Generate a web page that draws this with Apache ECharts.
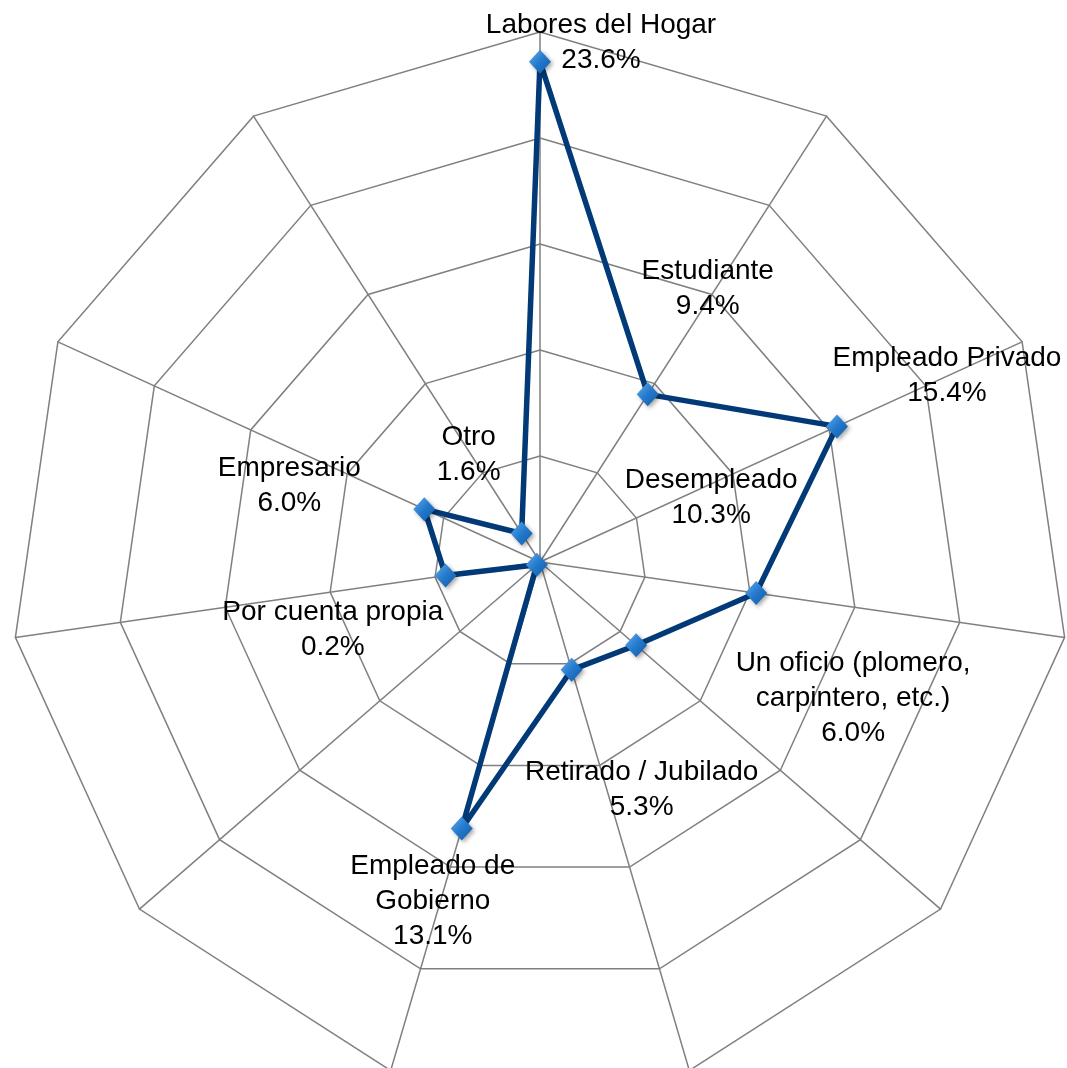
<!DOCTYPE html>
<html><head><meta charset="utf-8">
<script src="https://cdn.jsdelivr.net/npm/echarts@6/dist/echarts.min.js"></script>
<style>html,body{margin:0;padding:0;background:#fff}#c{width:1067px;height:1068px}</style>
</head><body><div id="c"></div>
<script>
// Categories in clockwise order starting from the top
const categories = ['Labores del Hogar', 'Estudiante', 'Empleado Privado', 'Desempleado',
  'Un oficio (plomero,\ncarpintero, etc.)', 'Retirado / Jubilado', 'Empleado de\nGobierno',
  'Por cuenta propia', '', 'Empresario', 'Otro'];
const values = [23.6, 9.4, 15.4, 10.3, 6.0, 5.3, 13.1, 0.2, 4.5, 6.0, 1.6];
const axisMax = 25;
const axisSplits = 5;

// label layout (offset of each text block from its point), kept apart from the data
const labelOffsets = [[61, -19], [60, -106], [110, -51], [-45, -95], [217, 53], [70, 120],
  [-29, 73], [-204, 65], [0, 0], [-135, -23], [-53, -79]];

const chart = echarts.init(document.getElementById('c'), null, {renderer: 'canvas'});
const center = [540, 562];
const radius = 530;

// ECharts radar runs counter-clockwise: reorder so the picture reads clockwise
const order = [0].concat(categories.map((_, i) => i).slice(1).reverse());

const option = {
  backgroundColor: '#ffffff',
  animation: false,
  radar: {
    center: center,
    radius: radius,
    startAngle: 90,
    shape: 'polygon',
    splitNumber: axisSplits,
    indicator: order.map(i => ({name: categories[i] || ' ', min: 0, max: axisMax})),
    axisName: {show: false},
    axisLine: {lineStyle: {color: '#808080', width: 1.5}},
    splitLine: {lineStyle: {color: '#808080', width: 1.5}},
    splitArea: {show: false},
    axisTick: {show: false},
    axisLabel: {show: false}
  },
  polar: {center: center, radius: radius},
  angleAxis: {type: 'value', min: 0, max: categories.length, startAngle: 90, clockwise: true, show: false},
  radiusAxis: {type: 'value', min: 0, max: axisMax, show: false},
  series: [
    {
      type: 'radar',
      symbol: 'diamond',
      symbolSize: [22, 24],
      lineStyle: {color: '#023a77', width: 5.5},
      itemStyle: {
        color: new echarts.graphic.LinearGradient(0, 0, 1, 1, [
          {offset: 0, color: '#62aced'}, {offset: 0.5, color: '#2479cc'}, {offset: 1, color: '#0f5aa8'}]),
        shadowBlur: 4, shadowColor: 'rgba(0,0,0,0.35)', shadowOffsetX: 2, shadowOffsetY: 2
      },
      z: 2,
      data: [{value: order.map(i => values[i]), name: 'Ocupación'}]
    },
    {
      type: 'scatter',
      coordinateSystem: 'polar',
      symbolSize: 1,
      itemStyle: {color: 'transparent'},
      z: 5,
      silent: true,
      data: categories.map((c, i) => c ? {
        name: c,
        value: [values[i], i],
        label: {offset: labelOffsets[i]}
      } : null).filter(d => d),
      label: {
        show: true,
        position: 'inside',
        fontFamily: 'Liberation Sans',
        fontSize: 28,
        lineHeight: 35,
        color: '#000000',
        opacity: 1,
        textBorderWidth: 0,
        align: 'center',
        verticalAlign: 'middle',
        formatter: p => p.name + '\n' + p.value[0].toFixed(1) + '%'
      }
    }
  ]
};
chart.setOption(option);
</script>
</body></html>
